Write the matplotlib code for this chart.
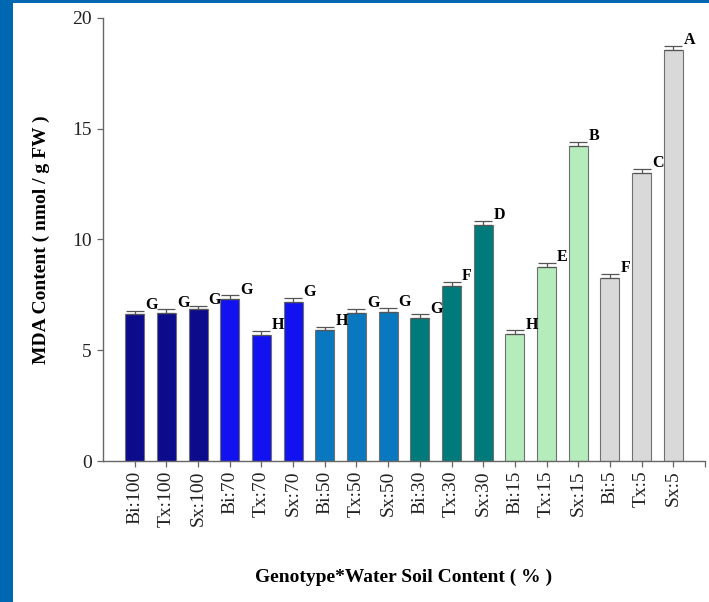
import matplotlib
matplotlib.use("Agg")
import matplotlib.pyplot as plt
from matplotlib.patches import Rectangle

# MDA content per genotype x soil water level
labels = ["Bi:100", "Tx:100", "Sx:100", "Bi:70", "Tx:70", "Sx:70",
          "Bi:50", "Tx:50", "Sx:50", "Bi:30", "Tx:30", "Sx:30",
          "Bi:15", "Tx:15", "Sx:15", "Bi:5", "Tx:5", "Sx:5"]
mda = [6.62, 6.68, 6.85, 7.3, 5.7, 7.18,
       5.9, 6.68, 6.73, 6.45, 7.9, 10.65,
       5.73, 8.76, 14.2, 8.26, 13.0, 18.55]
err = [0.17, 0.17, 0.17, 0.18, 0.17, 0.18,
       0.17, 0.17, 0.17, 0.17, 0.18, 0.18,
       0.17, 0.18, 0.2, 0.18, 0.18, 0.2]
letters = ["G", "G", "G", "G", "H", "G",
           "H", "G", "G", "G", "F", "D",
           "H", "E", "B", "F", "C", "A"]

level_colors = ["#0b0b8c", "#1212f0", "#0a78be", "#007a7a", "#b4ecbc", "#d9d9d9"]
colors = [c for c in level_colors for _ in range(3)]

plt.rcParams["font.family"] = ["Liberation Serif", "DejaVu Serif"]

fig = plt.figure(figsize=(7.09, 6.02), dpi=100)
fig.patch.set_facecolor("white")
# blue frame strips on the left and top
fig.add_artist(Rectangle((0, 0), 13 / 709, 1, transform=fig.transFigure,
                         facecolor="#0067b1", edgecolor="none"))
fig.add_artist(Rectangle((0, 1 - 3 / 602), 1, 3 / 602, transform=fig.transFigure,
                         facecolor="#0067b1", edgecolor="none"))

ax = fig.add_axes([103 / 709, 1 - 461 / 602, (705 - 103) / 709, (461 - 18) / 602])

x = list(range(len(labels)))
ax.bar(x, mda, width=0.6, color=colors, edgecolor="#707070", linewidth=0.8, zorder=2)
ax.errorbar(x, mda, yerr=[[0] * len(err), err], fmt="none", ecolor="#555555",
            elinewidth=0.9, capsize=6.5, capthick=0.9, zorder=3)

for xi, v, e, lt in zip(x, mda, err, letters):
    ax.text(xi + 0.33, v + e - 0.1, lt, ha="left", va="bottom",
            fontsize=11.5, fontweight="bold", color="black")

ax.set_xlim(-1, 18)
ax.set_ylim(0, 20)
ax.set_yticks([0, 5, 10, 15, 20])
ax.set_xticks(x)
ax.set_xticklabels(labels, rotation=90)
ax.set_xticks([18], minor=True)

for side in ["top", "right"]:
    ax.spines[side].set_visible(False)
for side in ["left", "bottom"]:
    ax.spines[side].set_color("#666666")
    ax.spines[side].set_linewidth(1.0)

ax.tick_params(axis="y", direction="out", length=4, width=0.9, color="#666666",
               labelsize=14, pad=4, labelcolor="#222222")
ax.tick_params(axis="x", which="both", direction="out", length=4, width=0.9,
               color="#666666", labelsize=14, pad=3, labelcolor="#222222")

ax.set_ylabel("MDA Content ( nmol / g FW )", fontsize=14, fontweight="bold", labelpad=16)
fig.text((103 + 705) / 2 / 709, 1 - 577 / 602, "Genotype*Water Soil Content ( % )",
         ha="center", va="center", fontsize=14, fontweight="bold")

fig.savefig("out.png", dpi=100)
